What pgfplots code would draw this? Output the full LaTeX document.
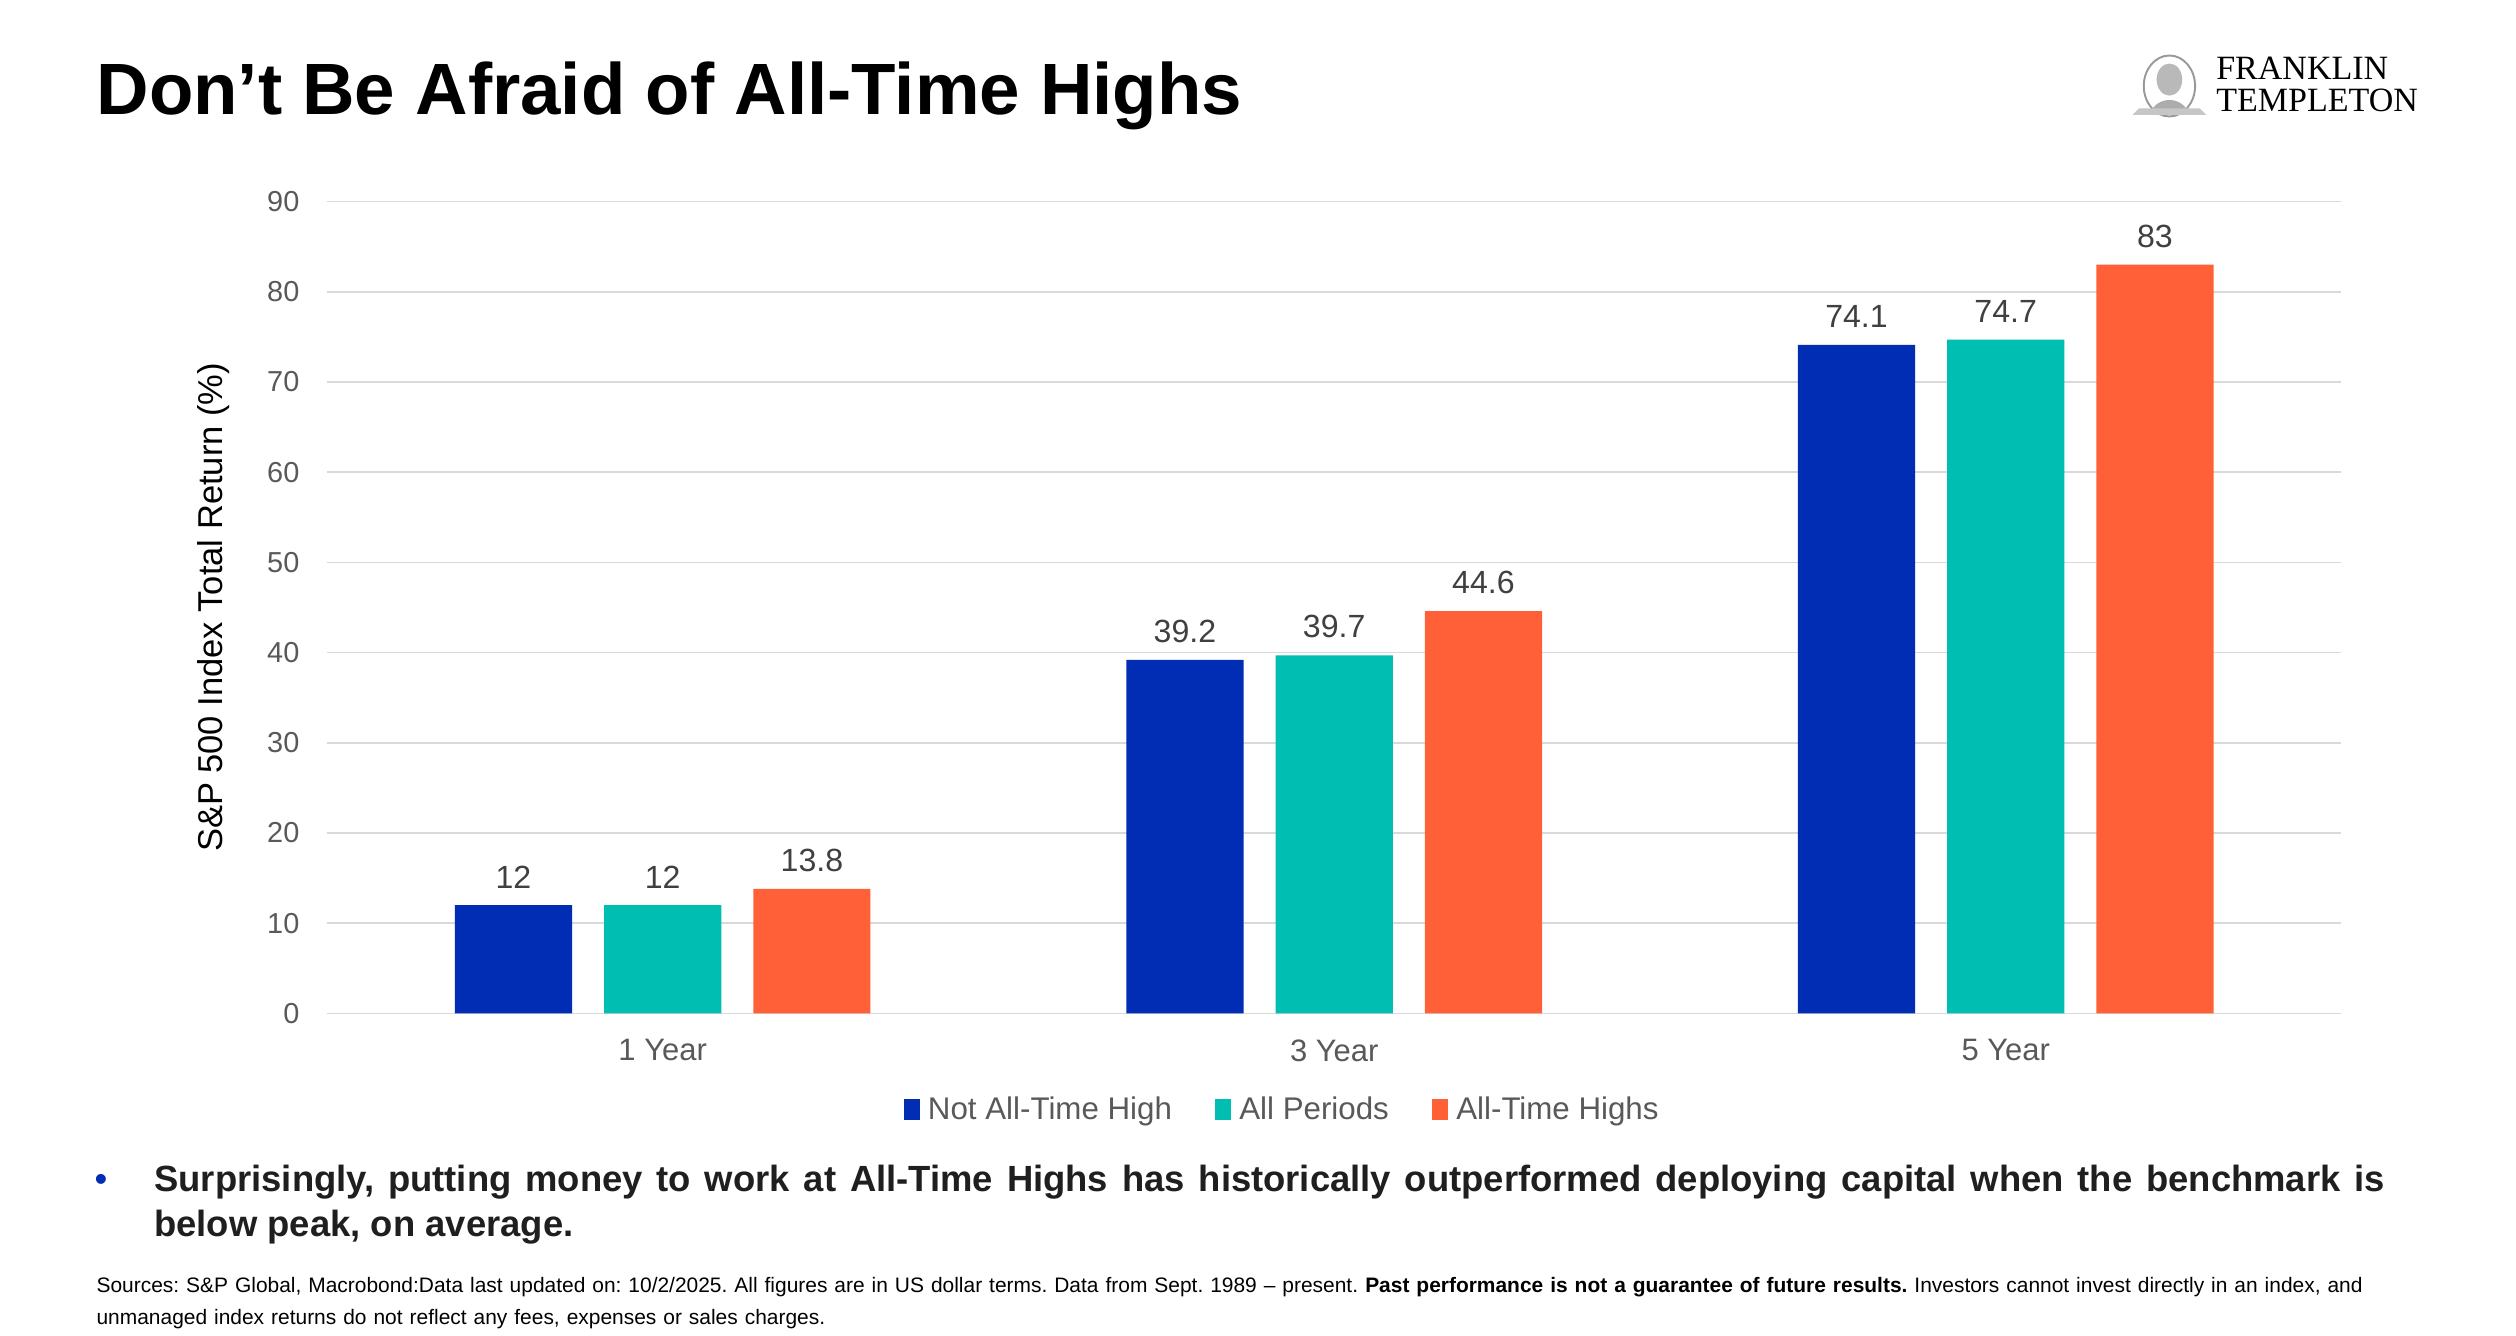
\documentclass[border=0pt]{standalone}
\usepackage{pgfplots}
\pgfplotsset{compat=1.18}
\usepackage{fontspec}
\setmainfont{Liberation Sans}
\newfontfamily\seriffont{Liberation Serif}
\definecolor{ftblue}{HTML}{002DB4}
\definecolor{ftteal}{HTML}{00BFB2}
\definecolor{ftorange}{HTML}{FF6038}
\definecolor{ticklab}{HTML}{595959}
\definecolor{datalab}{HTML}{404040}
\definecolor{gridc}{HTML}{D9D9D9}
\frenchspacing
\begin{document}
\begin{tikzpicture}[x=1pt,y=1pt]
\path[use as bounding box, fill=white] (0,0) rectangle (1568,832.6);
% title
\node[anchor=base west, inner sep=0pt, font=\fontsize{45.3}{50}\selectfont\bfseries] at (60,761) {Don’t Be Afraid of All-Time Highs};
% logo
\node[anchor=base west, inner sep=0pt, font=\seriffont\fontsize{21.2}{21.2}\selectfont] at (1381,783) {FRANKLIN};
\node[anchor=base west, inner sep=0pt, font=\seriffont\fontsize{21.2}{21.2}\selectfont] at (1381,763) {TEMPLETON};
\draw[gray!80, line width=1.2pt] (1352,779) ellipse (16 and 19);
\fill[gray!55] (1352,783) ellipse (8 and 10);
\fill[gray!65] (1340,762) .. controls (1344,773) and (1360,773) .. (1364,762) -- cycle;
\fill[gray!45] (1329,761) -- (1375,761) -- (1371,765) -- (1333,765) -- cycle;
% y label
\node[rotate=90, inner sep=0pt, font=\fontsize{21.5}{21.5}\selectfont] at (133,454) {S\&P 500 Index Total Return (\%)};
\begin{axis}[
  at={(203.75pt,201pt)}, anchor=south west,
  scale only axis, width=1255.5pt, height=506pt,
  xmin=-0.5, xmax=2.5, ymin=0, ymax=90,
  ybar=20pt, bar width=73pt,
  axis line style={draw=none},
  major tick length=0pt,
  ytick={0,10,...,90},
  xtick={0,1,2}, xticklabels={1 Year,3 Year,5 Year},
  ymajorgrids, grid style={gridc, line width=1pt},
  /pgf/number format/assume math mode=true,
  yticklabel style={font=\fontsize{18}{18}\selectfont, text=ticklab, inner sep=0pt, xshift=-17pt},
  xticklabel style={font=\fontsize{19.3}{19.3}\selectfont, text=ticklab, inner sep=0pt, yshift=-16pt},
  nodes near coords,
  nodes near coords style={font=\fontsize{20}{20}\selectfont, text=datalab, inner sep=0pt, anchor=south, yshift=10.5pt},
  clip=false,
  legend columns=3,
  legend style={at={(0.2864,-0.1186)}, anchor=west, draw=none, fill=none,
    font=\fontsize{19.5}{19.5}\selectfont, text=ticklab, inner sep=0pt, outer sep=0pt,
    nodes={inner sep=0pt},
    /tikz/every odd column/.append style={column sep=5pt},
    /tikz/every even column/.append style={column sep=27pt}},
  legend image code/.code={\begin{scope}[#1]\fill (0pt,-6.5pt) rectangle (10pt,6.5pt);\end{scope}},
]
\addplot[fill=ftblue, draw=none] coordinates {(0,12) (1,39.2) (2,74.1)};
\addplot[fill=ftteal, draw=none] coordinates {(0,12) (1,39.7) (2,74.7)};
\addplot[fill=ftorange, draw=none] coordinates {(0,13.8) (1,44.6) (2,83)};
\legend{Not All-Time High, All Periods, All-Time Highs}
\end{axis}
% bullet
\node[anchor=base, inner sep=0pt, text=ftblue, font=\fontsize{22.7}{28}\selectfont] at (63,90) {•};
\node[anchor=base west, inner sep=0pt, text width=1390pt, align=justify, font=\fontsize{22.7}{28}\selectfont\bfseries, text=black!88] at (96,90) {Surprisingly, putting money to work at All-Time Highs has historically outperformed deploying capital when the benchmark is below peak, on average.};
% footer
\node[anchor=base west, inner sep=0pt, text width=1435pt, align=left, font=\fontsize{13.05}{20}\selectfont] at (60,27) {Sources: S\&P Global, Macrobond:Data last updated on: 10/2/2025. All figures are in US dollar terms. Data from Sept. 1989 – present. \textbf{Past performance is not a guarantee of future results.} Investors cannot invest directly in an index, and \mbox{unmanaged} index returns do not reflect any fees, expenses or sales charges.};
\end{tikzpicture}
\end{document}
